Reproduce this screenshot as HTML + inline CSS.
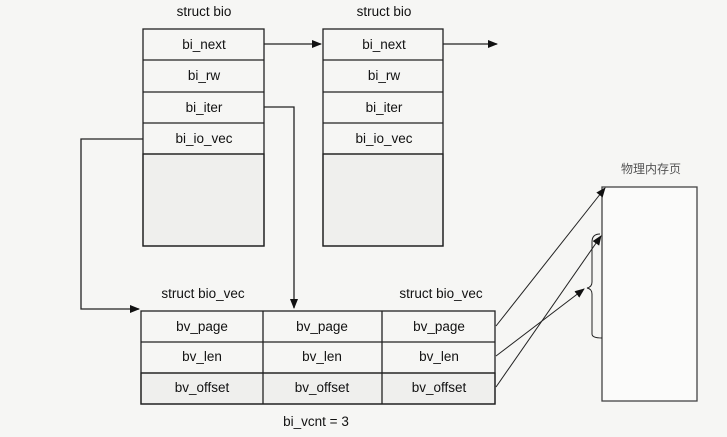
<!DOCTYPE html>
<html><head><meta charset="utf-8"><style>
html,body{margin:0;padding:0;background:#f6f6f4;}
svg{display:block}
text{font-family:"Liberation Sans",sans-serif;font-size:13.5px;fill:#111;text-anchor:middle}
</style></head><body>
<svg width="727" height="437" viewBox="0 0 727 437" xmlns="http://www.w3.org/2000/svg">
<defs><marker id="a" markerWidth="10" markerHeight="8" refX="9" refY="4" orient="auto" markerUnits="userSpaceOnUse"><path d="M0,0 L10,4 L0,8 Z" fill="#111"/></marker></defs>
<g stroke="#222" stroke-width="1.3" fill="none">
<rect x="143" y="154" width="121" height="92" fill="#efefed"/>
<rect x="143" y="29" width="121" height="217"/>
<line x1="143" y1="60" x2="264" y2="60"/><line x1="143" y1="92" x2="264" y2="92"/><line x1="143" y1="123" x2="264" y2="123"/><line x1="143" y1="154" x2="264" y2="154"/>
<rect x="323" y="154" width="120" height="92" fill="#efefed"/>
<rect x="323" y="29" width="120" height="217"/>
<line x1="323" y1="60" x2="443" y2="60"/><line x1="323" y1="92" x2="443" y2="92"/><line x1="323" y1="123" x2="443" y2="123"/><line x1="323" y1="154" x2="443" y2="154"/>
<rect x="141" y="373" width="354" height="31" fill="#efefed"/>
<rect x="141" y="311" width="354" height="93"/>
<line x1="141" y1="342" x2="495" y2="342"/><line x1="141" y1="373" x2="495" y2="373"/>
<line x1="263" y1="311" x2="263" y2="404"/><line x1="382" y1="311" x2="382" y2="404"/>
<rect x="602" y="187" width="95" height="214" fill="#fbfbfa" stroke="#444"/>
<path d="M264,44 H321" marker-end="url(#a)"/>
<path d="M443,44 H497" marker-end="url(#a)"/>
<path d="M143,139 H81 V309 H139" marker-end="url(#a)"/>
<path d="M264,107 H294 V308" marker-end="url(#a)"/>
<path d="M496,326 L605,188" marker-end="url(#a)" stroke-width="1"/>
<path d="M496,356 L584,289" marker-end="url(#a)" stroke-width="1"/>
<path d="M496,387 L601,236" marker-end="url(#a)" stroke-width="1"/>
<path d="M600,234 Q592,234 592,242 V282 Q592,287 587,288 Q592,289 592,294 V334 Q592,338 602,338" stroke-width="1"/>
</g>
<text x="204" y="16">struct bio</text><text x="384" y="16">struct bio</text>
<text x="204" y="49">bi_next</text><text x="204" y="80">bi_rw</text><text x="204" y="112">bi_iter</text><text x="204" y="143">bi_io_vec</text>
<text x="384" y="49">bi_next</text><text x="384" y="80">bi_rw</text><text x="384" y="112">bi_iter</text><text x="384" y="143">bi_io_vec</text>
<text x="203" y="298">struct bio_vec</text><text x="441" y="298">struct bio_vec</text>
<text x="202" y="331">bv_page</text><text x="322" y="331">bv_page</text><text x="439" y="331">bv_page</text>
<text x="202" y="361">bv_len</text><text x="322" y="361">bv_len</text><text x="439" y="361">bv_len</text>
<text x="202" y="392">bv_offset</text><text x="322" y="392">bv_offset</text><text x="439" y="392">bv_offset</text>
<text x="316" y="426">bi_vcnt = 3</text>
<text x="651" y="173" style="font-family:'Liberation Sans','Noto Sans CJK SC',sans-serif;font-size:12px;fill:#555">物理内存页</text>
</svg>
</body></html>
